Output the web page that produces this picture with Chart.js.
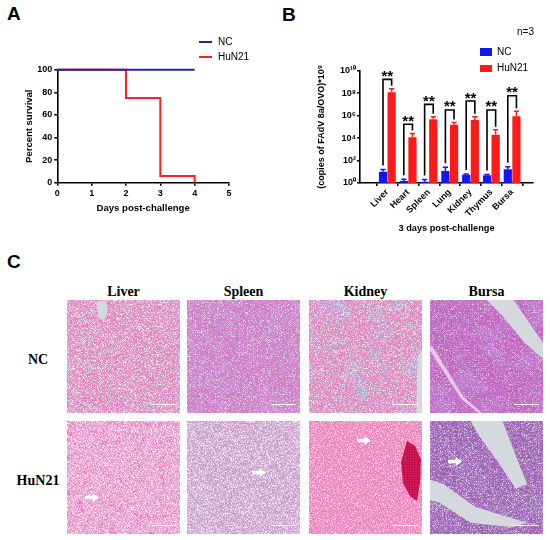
<!DOCTYPE html>
<html>
<head>
<meta charset="utf-8">
<script src="https://cdn.jsdelivr.net/npm/chart.js@4.4.1/dist/chart.umd.min.js"></script>
<style>
  body { margin: 0; background: #fff; }
  #fig { position: relative; width: 550px; height: 540px; overflow: hidden;
         font-family: "Liberation Sans", Arial, sans-serif; color: #000; }
  .abs { position: absolute; }
  .plabel { position: absolute; font-weight: bold; font-size: 19px; line-height: 19px; }
  .txt { position: absolute; font-size: 10px; height: 12px; line-height: 12px; white-space: nowrap; }
  .serif { position: absolute; font-family: "Liberation Serif", "Times New Roman", serif;
           font-weight: bold; font-size: 14px; line-height: 16px; height: 16px;
           transform: translateX(-50%); white-space: nowrap; }
  .tissue { position: absolute; width: 113px; height: 113px; overflow: hidden; }
  .tissue svg { position: absolute; left: 0; top: 0; }
  .gap { position: absolute; inset: 0; background: #d3d9dc; }
  .patch { position: absolute; }
  .scalebar { position: absolute; right: 4px; bottom: 8px; width: 25px; height: 1px; background: #fff; }
  .arrow { position: absolute; width: 14px; height: 9px; background: #fff;
           clip-path: polygon(0 30%, 55% 30%, 55% 0, 100% 50%, 55% 100%, 55% 70%, 0 70%); }
  .chartbox { position: absolute; top: 0; width: 275px; height: 240px; }
</style>
</head>
<body>
<div id="fig">
  <div class="plabel" style="left:7px;top:4px">A</div>
  <div class="plabel" style="left:282px;top:5px">B</div>
  <div class="plabel" style="left:7px;top:252px">C</div>

  <div class="chartbox" style="left:0"><canvas id="survivalChart"></canvas></div>
  <div class="chartbox" style="left:275px"><canvas id="loadChart"></canvas></div>

  <!-- legend A -->
  <div class="abs" style="left:199px;top:41px;width:13px;height:2px;background:#2323a6"></div>
  <div class="txt" style="left:218px;top:36px">NC</div>
  <div class="abs" style="left:199px;top:56px;width:13px;height:2px;background:#ff1f1f"></div>
  <div class="txt" style="left:218px;top:51px">HuN21</div>

  <!-- legend B -->
  <div class="txt" style="left:517px;top:26px">n=3</div>
  <div class="abs" style="left:480px;top:48px;width:12px;height:7.5px;background:#1515ee"></div>
  <div class="txt" style="left:497px;top:45.5px">NC</div>
  <div class="abs" style="left:480px;top:64.5px;width:12px;height:7.5px;background:#ff1a1a"></div>
  <div class="txt" style="left:497px;top:62px">HuN21</div>

  <!-- panel C -->
  <div id="histo"></div>
</div>

<script>
/* ---------------- Data ---------------- */

// A: Kaplan-Meier survival
const ncDays = [0, 4];
const ncSurvival = [100, 100];
const hunDays = [0, 2, 3, 4];
const hunSurvival = [100, 75, 6, 0];
const dayTicks = [0, 1, 2, 3, 4, 5];
const survivalTicks = [0, 20, 40, 60, 80, 100];

// B: viral load, 3 days post-challenge
const organs = ["Liver", "Heart", "Spleen", "Lung", "Kidney", "Thymus", "Bursa"];
const ncMean = [10, 1.5, 1.3, 12, 5.4, 5, 17];
const ncSd = [6, 0.7, 0.7, 13, 0.8, 0.8, 11];
const hunMean = [1.2e8, 1.2e4, 4.7e5, 1.5e5, 4e5, 2e4, 9e5];
const hunSd = [1.3e8, 1.3e4, 3.3e5, 1e5, 4e5, 3.5e4, 1.6e6];
const sigLevel = [1.7e9, 1.7e5, 1e7, 3.2e6, 2e7, 3.2e6, 5.8e7];
const sigLabel = ["**", "**", "**", "**", "**", "**", "**"];
const logTickExps = [0, 2, 4, 6, 8, 10];

// C: histology panels
const tissues = ["Liver", "Spleen", "Kidney", "Bursa"];
const groups = ["NC", "HuN21"];

/* ---------------- Helpers ---------------- */

const SUP = { "0": "⁰", "1": "¹", "2": "²", "3": "³", "4": "⁴", "5": "⁵", "6": "⁶", "7": "⁷", "8": "⁸", "9": "⁹" };
function sup(n) {
    return String(n).split("").map(c => SUP[c]).join("");
}

const FONT = "'Liberation Sans', Arial, sans-serif";
const BLACK = "#000";
const NC_LINE = "#2323a6";
const NC_BAR = "#1515ee";
const HUN = "#ff1a1a";

function axisStyle() {
    return {
        grid: { display: true, drawOnChartArea: false, drawTicks: true, tickLength: 3, color: BLACK, lineWidth: 1.6 },
        border: { display: true, color: BLACK, width: 1.6 }
    };
}

/* ---------------- Survival chart ---------------- */

new Chart(document.getElementById("survivalChart"), {
    type: "line",
    data: {
        datasets: [
            {
                label: "NC",
                data: ncDays.map((d, i) => ({ x: d, y: ncSurvival[i] })),
                borderColor: NC_LINE,
                borderWidth: 2,
                stepped: "before",
                pointRadius: 0,
                clip: false
            },
            {
                label: "HuN21",
                data: hunDays.map((d, i) => ({ x: d, y: hunSurvival[i] })),
                borderColor: "#ff1f1f",
                borderWidth: 2,
                stepped: "before",
                pointRadius: 0,
                clip: false
            }
        ]
    },
    options: {
        responsive: true,
        maintainAspectRatio: false,
        animation: false,
        layout: { padding: { left: 23.3, top: 69.7, right: 46, bottom: 26.2 } },
        plugins: { legend: { display: false }, tooltip: { enabled: false } },
        scales: {
            x: {
                type: "linear", min: 0, max: 5,
                ...axisStyle(),
                afterBuildTicks: s => { s.ticks = dayTicks.map(v => ({ value: v })); },
                afterFit: s => { s.height = 31.1; },
                ticks: { color: BLACK, padding: 2, font: { family: FONT, size: 9, weight: "bold" } },
                title: { display: true, text: "Days post-challenge", color: BLACK, padding: 0,
                         font: { family: FONT, size: 9.6, weight: "bold" } }
            },
            y: {
                min: 0, max: 100,
                ...axisStyle(),
                afterBuildTicks: s => { s.ticks = survivalTicks.map(v => ({ value: v })); },
                afterFit: s => { s.width = 34; },
                ticks: { color: BLACK, padding: 2, font: { family: FONT, size: 9, weight: "bold" } },
                title: { display: true, text: "Percent survival", color: BLACK, padding: 0,
                         font: { family: FONT, size: 9.5, weight: "bold" } }
            }
        }
    }
});

/* ---------------- Viral load chart ---------------- */

const errorAndSig = {
    id: "errorAndSig",
    afterDatasetsDraw(chart) {
        const ctx = chart.ctx;
        const y = chart.scales.y;
        const ncBars = chart.getDatasetMeta(0).data;
        const hunBars = chart.getDatasetMeta(1).data;
        ctx.save();
        ctx.lineWidth = 1.5;

        // upper error whiskers
        [[ncBars, ncMean, ncSd, NC_BAR], [hunBars, hunMean, hunSd, HUN]].forEach(([bars, mean, sd, col]) => {
            ctx.strokeStyle = col;
            bars.forEach((bar, i) => {
                const top = y.getPixelForValue(mean[i] + sd[i]);
                ctx.beginPath();
                ctx.moveTo(bar.x, bar.y);
                ctx.lineTo(bar.x, top);
                ctx.moveTo(bar.x - 2.6, top);
                ctx.lineTo(bar.x + 2.6, top);
                ctx.stroke();
            });
        });

        // significance brackets
        ctx.strokeStyle = BLACK;
        ctx.fillStyle = BLACK;
        ctx.lineWidth = 1.6;
        ctx.font = "bold 15px " + FONT;
        ctx.textAlign = "center";
        ctx.textBaseline = "alphabetic";
        organs.forEach((o, i) => {
            const xl = ncBars[i].x;
            const xr = hunBars[i].x;
            const top = y.getPixelForValue(sigLevel[i]);
            const leftEnd = y.getPixelForValue(ncMean[i] + ncSd[i]) - 4;
            const rightEnd = y.getPixelForValue(hunMean[i] + hunSd[i]) - 3;
            ctx.beginPath();
            ctx.moveTo(xl, leftEnd);
            ctx.lineTo(xl, top);
            ctx.lineTo(xr, top);
            ctx.lineTo(xr, rightEnd);
            ctx.stroke();
            ctx.fillText(sigLabel[i], (xl + xr) / 2, top + 1.5);
        });
        ctx.restore();
    }
};

new Chart(document.getElementById("loadChart"), {
    type: "bar",
    data: {
        datasets: [
            {
                label: "NC",
                data: organs.map((o, i) => ({ x: i, y: ncMean[i] })),
                backgroundColor: NC_BAR,
                borderWidth: 0
            },
            {
                label: "HuN21",
                data: organs.map((o, i) => ({ x: i, y: hunMean[i] })),
                backgroundColor: HUN,
                borderWidth: 0
            }
        ]
    },
    options: {
        responsive: true,
        maintainAspectRatio: false,
        animation: false,
        categoryPercentage: 0.83,
        barPercentage: 0.95,
        layout: { padding: { left: 41.6, top: 70.7, right: 17, bottom: 6.5 } },
        plugins: { legend: { display: false }, tooltip: { enabled: false } },
        scales: {
            x: {
                type: "linear", min: -0.72, max: 6.41,
                ...axisStyle(),
                afterBuildTicks: s => { s.ticks = organs.map((o, i) => ({ value: i })); },
                afterFit: s => { s.height = 50.5; },
                ticks: {
                    color: BLACK, padding: 1, minRotation: 45, maxRotation: 45, autoSkip: false,
                    font: { family: FONT, size: 9, weight: "bold" },
                    callback: v => organs[v]
                },
                title: { display: true, text: "3 days post-challenge", color: BLACK, padding: 0,
                         font: { family: FONT, size: 9.2, weight: "bold" } }
            },
            y: {
                type: "logarithmic", min: 1, max: 1e10,
                ...axisStyle(),
                afterBuildTicks: s => { s.ticks = logTickExps.map(e => ({ value: Math.pow(10, e) })); },
                afterFit: s => { s.width = 43.4; },
                ticks: {
                    color: BLACK, padding: 1, autoSkip: false,
                    font: { family: FONT, size: 9, weight: "bold" },
                    callback: v => "10" + sup(Math.round(Math.log10(v)))
                },
                title: { display: true, text: "(copies of FAdV 8a/OVO)*10" + sup(9), color: BLACK, padding: 0,
                         font: { family: FONT, size: 9, weight: "bold" } }
            }
        }
    },
    plugins: [errorAndSig]
});

/* ---------------- Histology grid ---------------- */

const colLeft = [67, 187, 309, 430];
const rowTop = [300, 421];

// look of each stained section: base colour, fine light grain, fine dark grain, coarse structure
const stain = {
    "NC-Liver":     { base: "#de82bc", light: [0.92, 0.86, 0.93, 3.4, -1.45], dark: [0.62, 0.28, 0.60, 3.4, -1.75], coarse: [0.6, 0.3, 0.6, 0, 0], cf: 0.05 },
    "NC-Spleen":    { base: "#cf7ac6", light: [0.92, 0.84, 0.93, 3.0, -1.4], dark: [0.55, 0.24, 0.62, 3.4, -1.65], coarse: [0.54, 0.24, 0.62, 2.6, -1.25], cf: 0.03 },
    "NC-Kidney":    { base: "#de82bc", light: [0.84, 0.86, 0.92, 3.4, -1.5], dark: [0.62, 0.32, 0.62, 3.0, -1.55], coarse: [0.44, 0.38, 0.66, 3.0, -1.55], cf: 0.05 },
    "NC-Bursa":     { base: "#c266c0", light: [0.92, 0.83, 0.93, 2.8, -1.4], dark: [0.48, 0.18, 0.60, 3.2, -1.5], coarse: [0.54, 0.22, 0.66, 2.6, -1.2], cf: 0.04 },
    "HuN21-Liver":  { base: "#e48cc2", light: [0.94, 0.88, 0.94, 3.4, -1.35], dark: [0.66, 0.36, 0.66, 3.0, -1.6], coarse: [0.88, 0.12, 0.48, 6.0, -3.5], cf: 0.12 },
    "HuN21-Spleen": { base: "#c894c6", light: [0.89, 0.87, 0.92, 3.4, -1.35], dark: [0.54, 0.30, 0.63, 3.0, -1.55], coarse: [0.60, 0.36, 0.66, 2.0, -1.0], cf: 0.03 },
    "HuN21-Kidney": { base: "#ea82b8", light: [0.95, 0.87, 0.92, 3.0, -1.3], dark: [0.82, 0.18, 0.50, 3.0, -1.45], coarse: [0.88, 0.22, 0.52, 3.0, -1.5], cf: 0.06 },
    "HuN21-Bursa":  { base: "#9a5eb2", light: [0.84, 0.79, 0.89, 3.0, -1.35], dark: [0.32, 0.12, 0.44, 3.4, -1.6], coarse: [0.36, 0.16, 0.54, 3.0, -1.4], cf: 0.04 }
};

function noiseLayer(id, freq, oct, seed, c, channel) {
    const a = [0, 0, 0, 0];
    a[channel] = c[3];
    return `<filter id="${id}" x="0" y="0" width="100%" height="100%">` +
           `<feTurbulence type="fractalNoise" baseFrequency="${freq}" numOctaves="${oct}" seed="${seed}"/>` +
           `<feColorMatrix type="matrix" values="0 0 0 0 ${c[0]}  0 0 0 0 ${c[1]}  0 0 0 0 ${c[2]}  ${a.join(" ")} ${c[4]}"/>` +
           `</filter><rect width="113" height="113" filter="url(#${id})"/>`;
}

function stainSvg(key, n) {
    const s = stain[key];
    return `<svg width="113" height="113"><rect width="113" height="113" fill="${s.base}"/>` +
           noiseLayer("c" + n, s.cf, 3, n * 7 + 1, s.coarse, 0) +
           noiseLayer("d" + n, 1.7, 1, n * 7 + 2, s.dark, 0) +
           noiseLayer("l" + n, 1.5, 1, n * 7 + 3, s.light, 1) +
           `</svg>`;
}

// decorative shapes: gray lumen, blood patches, arrows
const extras = {
    "NC-Liver": '<div class="gap" style="clip-path:polygon(26% 2%,34% 0,36% 10%,33% 18%,28% 16%)"></div>',
    "NC-Kidney": '<div class="gap" style="clip-path:polygon(96% 50%,100% 45%,100% 100%,95% 100%)"></div>',
    "NC-Bursa": '<div class="gap" style="clip-path:polygon(50% 0,74% 0,100% 38%,100% 52%,84% 38%,64% 14%)"></div>' +
                '<div class="gap" style="background:#ecc6e6;clip-path:polygon(0 41%,2% 41%,30% 86%,46% 100%,43% 100%,28% 88%,0 45%)"></div>',
    "HuN21-Kidney": '<div class="patch" style="left:92px;top:20px;width:20px;height:60px;' +
                    'background:radial-gradient(circle, #b80c44 0 0.8px, #d8205e 1.2px) 0 0/2.5px 2.5px;' +
                    'clip-path:polygon(30% 0,70% 8%,100% 30%,95% 70%,80% 100%,45% 92%,10% 70%,0 35%)"></div>' +
                    '<div class="arrow" style="left:48px;top:15px"></div>',
    "HuN21-Liver": '<div class="arrow" style="left:18px;top:72px"></div>',
    "HuN21-Spleen": '<div class="arrow" style="left:65px;top:47px"></div>',
    "HuN21-Bursa": '<div class="gap" style="clip-path:polygon(36% 0,64% 0,78% 36%,86% 56%,76% 60%,60% 36%,44% 14%)"></div>' +
                   '<div class="gap" style="clip-path:polygon(0 52%,12% 56%,40% 76%,66% 84%,86% 90%,72% 94%,36% 90%,8% 72%,0 70%)"></div>' +
                   '<div class="arrow" style="left:18px;top:36px"></div>'
};

const histo = document.getElementById("histo");
let html = "";
tissues.forEach((t, c) => {
    html += `<div class="serif" style="left:${colLeft[c] + 56.5}px;top:284px">${t}</div>`;
});
let n = 0;
groups.forEach((g, r) => {
    html += `<div class="serif" style="left:38px;top:${rowTop[r] + 52}px">${g}</div>`;
    tissues.forEach((t, c) => {
        const key = g + "-" + t;
        n++;
        html += `<div class="tissue" style="left:${colLeft[c]}px;top:${rowTop[r]}px">` +
                stainSvg(key, n) + (extras[key] || "") + `<div class="scalebar"></div></div>`;
    });
});
histo.innerHTML = html;
</script>
</body>
</html>
